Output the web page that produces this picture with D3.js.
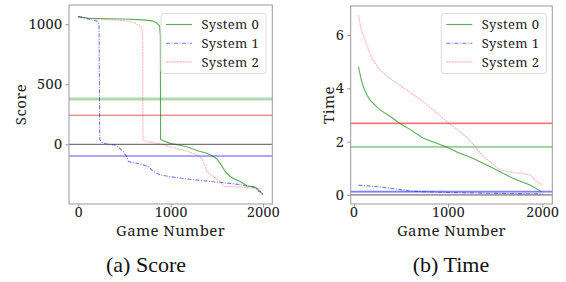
<!DOCTYPE html>
<html>
<head>
<meta charset="utf-8">
<script src="https://cdn.jsdelivr.net/npm/d3@7"></script>
</head>
<body style="margin:0">
<script>
// series names
const systems = ['System 0', 'System 1', 'System 2'];

// (a) Score - sorted scores per game
const scoreGames0 = [0, 100, 300, 500, 700, 800, 850, 880, 888, 891, 920, 993, 1100, 1174, 1300, 1392, 1463, 1500, 1535, 1590, 1643, 1700, 1752, 1824, 1914, 1969, 2000];
const scoreVals0  = [1063, 1050, 1046, 1043, 1036, 1028, 1010, 985, 900, 41, 30, 8, -8, -20, -55, -75, -102, -122, -157, -226, -268, -292, -309, -345, -356, -392, -420];
const scoreGames1 = [0, 100, 199, 215, 224, 228, 232, 260, 300, 350, 398, 450, 488, 520, 542, 650, 759, 813, 885, 1000, 1102, 1250, 1427, 1600, 1752, 1896, 1930, 1950, 1980, 2000];
const scoreVals1  = [1063, 1045, 1027, 1015, 1000, 600, 40, 15, 5, -2, -6, -35, -61, -100, -144, -160, -185, -226, -254, -270, -281, -295, -309, -322, -336, -356, -375, -392, -400, -425];
const scoreGames2 = [0, 200, 400, 524, 600, 668, 690, 697, 700, 741, 800, 900, 993, 1100, 1246, 1336, 1370, 1391, 1463, 1535, 1572, 1650, 1752, 1896, 1987];
const scoreVals2  = [1063, 1045, 1035, 1027, 1015, 986, 960, 900, 35, 22, 15, 0, -20, -40, -75, -116, -170, -226, -268, -309, -350, -353, -355, -364, -370];
const scoreRefLines = [377, 242, 0, -97.5];

// (b) Time
const timeGames0 = [50, 75, 102, 140, 173, 279, 420, 473, 600, 738, 986, 1100, 1268, 1480, 1692, 1869, 1993];
const timeVals0  = [4.81, 4.4, 4.06, 3.75, 3.56, 3.19, 2.87, 2.72, 2.45, 2.13, 1.8, 1.6, 1.37, 1.0, 0.62, 0.375, 0.125];
const timeGames1 = [50, 311, 594, 735, 1018, 1500, 2000];
const timeVals1  = [0.37, 0.29, 0.15, 0.12, 0.09, 0.06, 0.04];
const timeGames2 = [50, 80, 120, 191, 279, 385, 562, 738, 827, 950, 1003, 1100, 1233, 1300, 1375, 1551, 1693, 1800, 1870, 1940, 2000];
const timeVals2  = [6.75, 6.2, 5.81, 5.12, 4.69, 4.37, 3.94, 3.5, 3.24, 2.87, 2.69, 2.45, 2.06, 1.75, 1.44, 0.94, 0.84, 0.8, 0.75, 0.5, 0.38];
const timeRefLines = [2.69, 1.8, 0.12, 0];

const xTicks = [0, 1000, 2000];
const scoreTicks = [0, 500, 1000];
const timeTicks = [0, 2, 4, 6];

// one family per text, a fallback list did not pick the serif face
const SERIF = "'Noto Serif'";
const TIMES = "'Liberation Serif'";

const styles = [
  { color: 'rgba(0,128,0,0.65)', dash: null },
  { color: 'rgba(0,0,255,0.55)', dash: '4,1.5,1,1.5' },
  { color: 'rgba(255,0,0,0.3)', dash: '2,0.8' }
];

const svg = d3.select('body').append('svg')
  .attr('width', 566).attr('height', 282);

function serifText(sel, size) {
  return sel.attr('font-family', 'Noto Serif')
    .style('font-family', SERIF).style('font-size', size + 'px')
    .style('letter-spacing', '0.4px').attr('fill', '#222');
}

function drawPanel(p) {
  const x = d3.scaleLinear().domain(p.xDomain).range([p.left, p.right]);
  const y = d3.scaleLinear().domain(p.yDomain).range([p.bottom, p.top]);
  const g = svg.append('g');

  // reference lines
  p.refs.forEach((v, i) => {
    const s = p.refStyles[i];
    g.append('line')
      .attr('x1', p.left).attr('x2', p.right)
      .attr('y1', y(v)).attr('y2', y(v))
      .attr('stroke', s.color).attr('stroke-width', s.width);
    if (s.halo) {
      g.append('line')
        .attr('x1', p.left).attr('x2', p.right)
        .attr('y1', y(v)).attr('y2', y(v))
        .attr('stroke', s.halo).attr('stroke-width', 3);
    }
  });

  const line = d3.line().x(d => x(d[0])).y(d => y(d[1]));
  // series 2 first, then 1, then 0 on top
  [2, 1, 0].forEach(i => {
    const pts = p.games[i].map((gm, k) => [gm, p.vals[i][k]]);
    g.append('path')
      .attr('d', line(pts))
      .attr('fill', 'none')
      .attr('stroke', styles[i].color)
      .attr('stroke-width', 1.1)
      .attr('stroke-dasharray', styles[i].dash);
  });

  // frame
  g.append('rect')
    .attr('x', p.left).attr('y', p.top)
    .attr('width', p.right - p.left).attr('height', p.bottom - p.top)
    .attr('fill', 'none').attr('stroke', '#999').attr('stroke-width', 1);

  // axes
  const xa = g.append('g').attr('transform', `translate(0,${p.bottom})`)
    .call(d3.axisBottom(x).tickValues(xTicks).tickSize(3.5).tickPadding(0).tickFormat(d3.format('d')));
  xa.select('.domain').remove();
  xa.attr('font-family', null).attr('font-size', null);
  xa.selectAll('line').attr('stroke', '#999');
  serifText(xa.selectAll('text'), 14);

  const ya = g.append('g').attr('transform', `translate(${p.left},0)`)
    .call(d3.axisLeft(y).tickValues(p.yTicks).tickSize(3.5).tickPadding(3).tickFormat(d3.format('d')));
  ya.select('.domain').remove();
  ya.attr('font-family', null).attr('font-size', null);
  ya.selectAll('line').attr('stroke', '#999');
  serifText(ya.selectAll('text'), 14.5);

  // axis labels
  serifText(g.append('text'), 15)
    .attr('x', (p.left + p.right) / 2).attr('y', 236)
    .attr('text-anchor', 'middle')
    .text('Game Number');
  serifText(g.append('text'), 15)
    .attr('transform', `translate(${p.yLabelX},${(p.top + p.bottom) / 2}) rotate(-90)`)
    .attr('text-anchor', 'middle')
    .text(p.yLabel);

  // legend
  const lg = g.append('g').attr('transform', `translate(${p.legendX},13.5)`);
  lg.append('rect')
    .attr('width', 105).attr('height', 60).attr('rx', 2.5)
    .attr('fill', 'rgba(255,255,255,0.85)').attr('stroke', '#dcdcdc');
  systems.forEach((name, i) => {
    const yy = 11 + i * 18.7;
    lg.append('line')
      .attr('x1', 5).attr('x2', 31).attr('y1', yy).attr('y2', yy)
      .attr('stroke', styles[i].color).attr('stroke-width', 1.1)
      .attr('stroke-dasharray', styles[i].dash);
    serifText(lg.append('text'), 13)
      .attr('x', 40.5).attr('y', yy).attr('dy', '0.36em')
      .text(name);
  });

  // caption
  svg.append('text')
    .attr('x', p.captionX).attr('y', 272)
    .attr('font-family', 'Liberation Serif')
    .style('font-family', TIMES).style('font-size', '22px')
    .attr('fill', '#111')
    .attr('text-anchor', 'middle')
    .text(p.caption);
}

drawPanel({
  left: 69, right: 272.3, top: 5, bottom: 204,
  xDomain: [-100.7, 2100], yDomain: [-497, 1160],
  games: [scoreGames0, scoreGames1, scoreGames2],
  vals: [scoreVals0, scoreVals1, scoreVals2],
  refs: scoreRefLines,
  refStyles: [
    { color: 'rgba(0,128,0,0.3)', width: 3 },
    { color: 'rgba(220,40,40,0.75)', width: 1 },
    { color: '#555', width: 1 },
    { color: 'rgba(40,40,255,0.8)', width: 1 }
  ],
  yTicks: scoreTicks, yLabel: 'Score', yLabelX: 26,
  legendX: 161, caption: '(a)  Score', captionX: 146
});

drawPanel({
  left: 350.7, right: 552.3, top: 6, bottom: 204,
  xDomain: [-32, 2106], yDomain: [-0.34, 7.09],
  games: [timeGames0, timeGames1, timeGames2],
  vals: [timeVals0, timeVals1, timeVals2],
  refs: timeRefLines,
  refStyles: [
    { color: 'rgba(220,40,40,0.75)', width: 1, halo: 'rgba(255,0,0,0.12)' },
    { color: 'rgba(0,128,0,0.7)', width: 1 },
    { color: 'rgba(40,40,255,0.6)', width: 1, halo: 'rgba(0,0,255,0.18)' },
    { color: '#555', width: 1 }
  ],
  yTicks: timeTicks, yLabel: 'Time', yLabelX: 334,
  legendX: 441.3, caption: '(b)  Time', captionX: 451
});
</script>
</body>
</html>
